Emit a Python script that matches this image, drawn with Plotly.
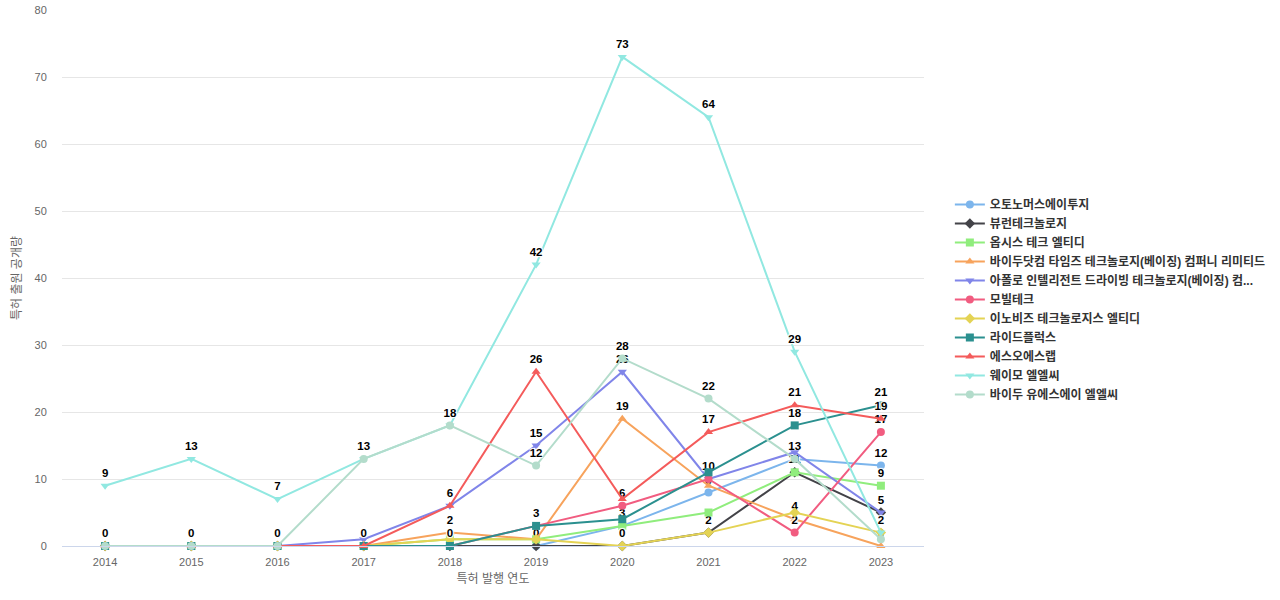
import plotly.graph_objects as go

years = ["2014", "2015", "2016", "2017", "2018", "2019", "2020", "2021", "2022", "2023"]

names = [
    "오토노머스에이투지",
    "뷰런테크놀로지",
    "옵시스 테크 엘티디",
    "바이두닷컴 타임즈 테크놀로지(베이징) 컴퍼니 리미티드",
    "아폴로 인텔리전트 드라이빙 테크놀로지(베이징) 컴...",
    "모빌테크",
    "이노비즈 테크놀로지스 엘티디",
    "라이드플럭스",
    "에스오에스랩",
    "웨이모 엘엘씨",
    "바이두 유에스에이 엘엘씨",
]

autonomous_a2z = [0, 0, 0, 0, 0, 0, 3, 8, 13, 12]
vueron = [0, 0, 0, 0, 0, 0, 0, 2, 11, 5]
opsys = [0, 0, 0, 0, 1, 1, 3, 5, 11, 9]
baidu_com = [0, 0, 0, 0, 2, 1, 19, 9, 4, 0]
apollo = [0, 0, 0, 1, 6, 15, 26, 10, 14, 5]
mobiltech = [0, 0, 0, 0, 0, 3, 6, 10, 2, 17]
innoviz = [0, 0, 0, 0, 1, 1, 0, 2, 5, 2]
rideflux = [0, 0, 0, 0, 0, 3, 4, 11, 18, 21]
soslab = [0, 0, 0, 0, 6, 26, 7, 17, 21, 19]
waymo = [9, 13, 7, 13, 18, 42, 73, 64, 29, 2]
baidu_usa = [0, 0, 0, 13, 18, 12, 28, 22, 13, 1]

# which points carry a visible data label (index of year)
label_idx = [
    [7, 8, 9],          # 오토노머스
    [5, 7],             # 뷰런
    [6, 8, 9],          # 옵시스
    [4, 6, 8, 9],       # 바이두닷컴
    [5, 6, 7, 9],       # 아폴로
    [6, 8, 9],          # 모빌테크
    [6, 9],             # 이노비즈
    [4, 5, 8, 9],       # 라이드플럭스
    [3, 4, 5, 7, 8, 9], # 에스오에스랩
    [0, 1, 2, 3, 4, 5, 6, 7, 8],  # 웨이모
    [0, 1, 2, 5, 6, 7],  # 바이두 유에스에이
]

series = [autonomous_a2z, vueron, opsys, baidu_com, apollo, mobiltech,
          innoviz, rideflux, soslab, waymo, baidu_usa]
colors = ["#7cb5ec", "#434348", "#90ed7d", "#f7a35c", "#8085e9", "#f15c80",
          "#e4d354", "#2b908f", "#f45b5b", "#91e8e1", "#b3dccb"]
symbols = ["circle", "diamond", "square", "triangle-up", "triangle-down",
           "circle", "diamond", "square", "triangle-up", "triangle-down", "circle"]

FONT = "Liberation Sans, Noto Sans CJK KR, sans-serif"
OUTLINE = "1px 1px 1px white, -1px -1px 1px white, 1px -1px 1px white, -1px 1px 1px white"

fig = go.Figure()
for name, vals, col, sym, lab in zip(names, series, colors, symbols, label_idx):
    text = [str(v) if i in lab else "" for i, v in enumerate(vals)]
    fig.add_trace(go.Scatter(
        x=years, y=vals, name=name, mode="lines+markers+text",
        line=dict(color=col, width=2),
        marker=dict(color=col, symbol=sym, size=8),
        text=text, textposition="top center",
        textfont=dict(family=FONT, size=11.5, color="#000000", weight="bold",
                      shadow=OUTLINE),
        cliponaxis=False,
    ))

fig.update_layout(
    width=1280, height=600,
    margin=dict(l=62, r=356, t=10, b=54, autoexpand=False),
    paper_bgcolor="white", plot_bgcolor="white",
    font=dict(family=FONT, color="#666666", size=11),
    showlegend=True,
    legend=dict(
        x=1.03, xanchor="left", y=0.46, yanchor="middle",
        font=dict(family=FONT, size=12, color="#333333", weight="bold"),
        itemwidth=30, tracegroupgap=0,
    ),
    xaxis=dict(
        type="category", range=[-0.5, 9.5], automargin=False,
        showgrid=False, zeroline=False,
        showline=True, linecolor="#ccd6eb", linewidth=1,
        ticks="outside", ticklen=6, tickcolor="rgba(0,0,0,0)",
        tickfont=dict(size=11, color="#666666"),
        title=dict(text="특허 발행 연도", font=dict(size=12, color="#666666"), standoff=7),
    ),
    yaxis=dict(
        range=[0, 80], dtick=10, automargin=False,
        showgrid=True, gridcolor="#e6e6e6", gridwidth=1,
        zeroline=False, showline=False,
        ticks="outside", ticklen=12, tickcolor="rgba(0,0,0,0)",
        tickfont=dict(size=11, color="#666666"),
        title=dict(text="특허 출원 공개량", font=dict(size=12, color="#666666"), standoff=10),
    ),
)

fig.write_html("out.html", config={"displayModeBar": False},
               post_script="document.body.style.margin='0';")
